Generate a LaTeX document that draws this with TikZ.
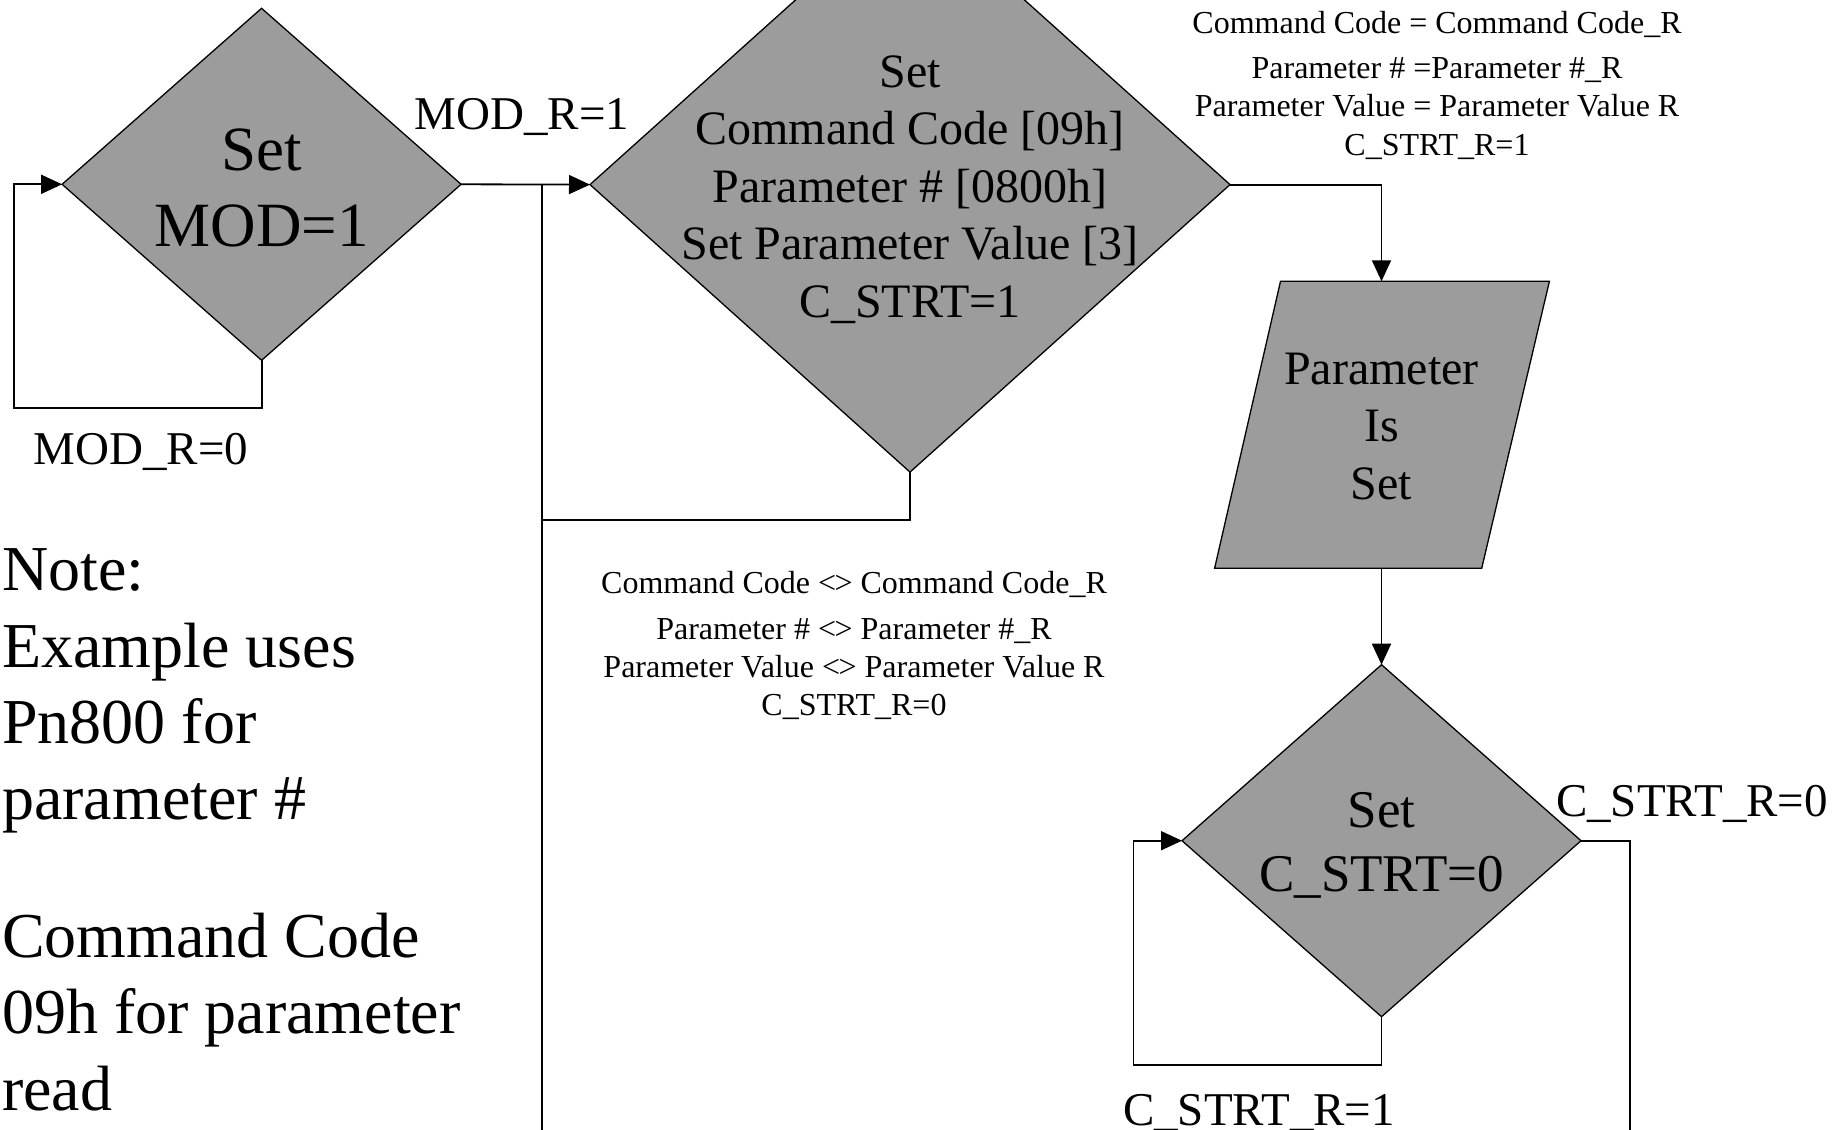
\documentclass[tikz,border=0pt]{standalone}
\usepackage{fontspec}
\setmainfont{Liberation Serif}
\usetikzlibrary{arrows.meta,shapes.geometric}
\definecolor{shapegray}{RGB}{156,156,156}
\newcommand{\mynoteq}{\textless\kern-1.5pt\textgreater}
\tikzset{
  shp/.style={draw=black, line width=1.3pt, fill=shapegray},
  dia/.style={shp, diamond, inner sep=0pt, outer sep=0pt},
  conn/.style={line width=1.8pt},
  arr/.style={conn, -{Triangle[length=21pt,width=19pt]}},
  tbig/.style={font=\fontsize{63}{76}\selectfont, align=center, inner sep=0pt, anchor=base},
  tmid/.style={font=\fontsize{48}{57.5}\selectfont, align=center, inner sep=0pt, anchor=base},
  tdia/.style={font=\fontsize{53}{64}\selectfont, align=center, inner sep=0pt, anchor=base},
  tlab/.style={font=\fontsize{47}{56}\selectfont, inner sep=0pt, anchor=base},
  tsmall/.style={font=\fontsize{32}{38.3}\selectfont, align=center, inner sep=0pt, anchor=base},
  tnote/.style={font=\fontsize{64}{76.3}\selectfont, align=left, inner sep=0pt, anchor=base west},
}
\begin{document}
\begin{tikzpicture}[x=1pt,y=-1pt]
\useasboundingbox (0,0) rectangle (1848,1130);

% shapes
\node[dia, minimum width=399pt, minimum height=352pt] (d1) at (261.6,184.3) {};
\node[dia, minimum width=640pt, minimum height=575pt] (d2) at (910,184.6) {};
\node[dia, minimum width=399pt, minimum height=352pt] (d3) at (1381.5,840.7) {};
\draw[shp] (1280.5,281.3) -- (1549.4,281.3) -- (1481.7,568.3) -- (1214.6,568.3) -- cycle;
\node[inner sep=0pt, outer sep=0pt, minimum width=269pt, minimum height=287pt] (ps) at (1381.5,424.8) {};

% texts in shapes (base = baseline of last line)
\node[tbig] (d1t) at (261.6,246.7) {Set\\MOD=1};
\node[tmid] (d2t) at (910,317) {Set\\Command Code [09h]\\Parameter \# [0800h]\\Set Parameter Value [3]\\C\_STRT=1};
\node[tmid] (pst) at (1381.5,499.4) {Parameter\\Is\\Set};
\node[tdia] (d3t) at (1381.5,891.4) {Set\\C\_STRT=0};

% junction coordinates
\coordinate (j1) at (542,184.3);
\coordinate (j1b) at (542,1140);
\coordinate (j2) at (542,520);
\coordinate (l1) at (14.3,408.3);
\coordinate (l3) at (1133.4,1064.8);
\coordinate (r3) at (1629.6,1140);

% connectors
\draw[arr] (d1.south) |- (l1) |- (d1.west);
\draw[arr] (d1.east) -- (d2.west);
\draw[conn] (j1) -- (j1b);
\draw[conn] (d2.south) |- (j2);
\draw[arr] (d2.east) -| (ps.north);
\draw[arr] (ps.south) -- (d3.north);
\draw[arr] (d3.south) |- (l3) |- (d3.west);
\draw[conn] (d3.east) -| (r3);

% labels
\node[tlab] (m1) at (522,129.3) {MOD\_R=1};
\node[tlab] (m0) at (141,464) {MOD\_R=0};
\node[tlab] (c0) at (1692,816.4) {C\_STRT\_R=0};
\node[tlab] (c1) at (1259,1125) {C\_STRT\_R=1};

\node[tsmall] (eq) at (1437,155) {Command Code = Command Code\_R\\[6.5pt]Parameter \# =Parameter \#\_R\\Parameter Value = Parameter Value R\\C\_STRT\_R=1};
\node[tsmall] (ne) at (854,715.7) {Command Code \mynoteq\ Command Code\_R\\[7pt]Parameter \# \mynoteq\ Parameter \#\_R\\Parameter Value \mynoteq\ Parameter Value R\\C\_STRT\_R=0};

\node[tnote] (note) at (2,1110) {Note:\\Example uses\\Pn800 for\\parameter \#\\[61.3pt]Command Code\\09h for parameter\\read};
\end{tikzpicture}
\end{document}
